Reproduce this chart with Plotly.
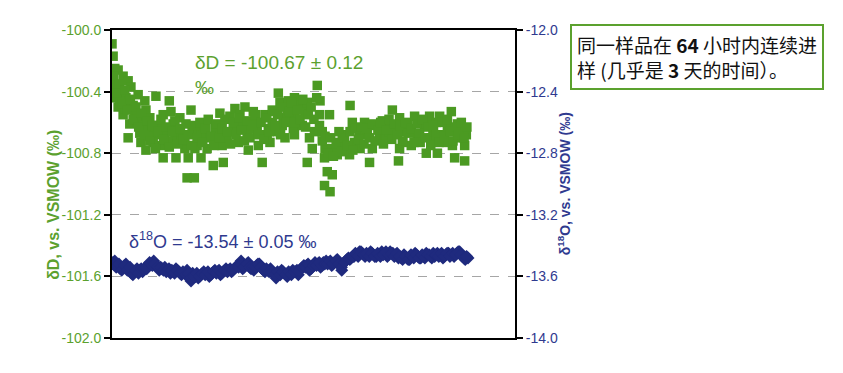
import plotly.graph_objects as go

# ---- data ----
# deltaD series: time (h) and value (permil)
dD_hours = [0.0, 0.2, 0.5, 1.1, 0.2, 2.0, 0.7, 2.9, 3.4, 0.5, 1.6, 2.5, 4.7, 7.9, 10.3,
            1.1, 2.0, 3.8, 5.9, 6.1, 3.2, 5.2, 2.9, 5.0, 5.2, 6.1, 7.0, 7.7, 9.2, 9.5,
            8.8, 9.2, 10.6, 11.0, 11.3, 11.5, 12.2, 12.4, 13.1, 13.7, 14.2, 13.5, 14.8, 14.9, 15.5,
            15.8, 16.0, 1.4, 2.3, 4.1, 6.8, 8.3, 10.1, 11.9, 13.1, 14.4, 15.3, 4.5, 5.6, 6.5, 7.4,
            16.4, 17.1, 18.2, 19.1, 19.4, 19.8, 20.0, 21.2, 21.6, 22.1, 22.5, 22.7, 23.9, 23.6, 24.3,
            24.5, 25.7, 26.1, 26.3, 27.0, 27.5, 28.1, 28.4, 29.3, 29.7, 29.9, 30.2, 30.8, 31.1, 31.7,
            32.0, 32.6, 16.7, 17.6, 18.5, 20.7, 23.0, 24.8, 25.4, 27.9, 28.8, 30.6, 31.5,
            32.8, 32.9, 32.8, 33.7, 34.2, 34.7, 35.1, 35.5, 36.9, 37.4, 37.3, 36.4, 36.0, 35.1, 37.8,
            39.1, 38.3, 38.2, 38.7, 39.6, 38.2, 39.2, 39.6, 40.5, 41.4, 41.8, 42.7, 42.8, 43.2, 43.6,
            44.5, 44.6, 45.4, 45.9, 46.3, 46.8, 47.2, 48.1, 48.6, 49.1, 40.9, 41.9,
            49.3, 49.3, 50.4, 50.8, 51.7, 51.7, 51.5, 52.6, 53.1, 53.8, 54.4, 54.9, 56.2, 56.5, 57.1,
            57.4, 58.3, 58.5, 58.9, 59.4, 60.3, 61.0, 61.2, 61.6, 62.1, 63.0, 63.4, 63.4, 63.7, 49.9,
            52.2, 55.4, 57.7, 60.1, 62.1,
            0.3, 0.8, 1.3, 1.8, 2.3, 2.8, 3.3, 3.8, 4.3, 4.8, 5.3, 5.8, 6.3, 6.8, 7.3, 7.8, 8.3, 8.8,
            9.3, 9.8, 10.3, 10.8, 11.3, 11.8, 12.3, 12.8, 13.3, 13.8, 14.3, 14.8, 15.3, 15.8, 16.3,
            16.8, 17.3, 17.8, 18.3, 18.8, 19.3, 19.8, 20.3, 20.8, 21.3, 21.8, 22.3, 22.8, 23.3, 23.8,
            24.3, 24.8, 25.3, 25.8, 26.3, 26.8, 27.3, 27.8, 28.3, 28.8, 29.3, 29.8, 30.3, 30.8, 31.3,
            31.8, 32.3, 32.8, 33.3, 33.8, 34.3, 34.8, 35.3, 35.8, 36.3, 36.8, 37.3, 37.8, 38.3, 38.8,
            39.3, 39.8, 40.3, 40.8, 41.3, 41.8, 42.3, 42.8, 43.3, 43.8, 44.3, 44.8, 45.3, 45.8, 46.3,
            46.8, 47.3, 47.8, 48.3, 48.8, 49.3, 49.8, 50.3, 50.8, 51.3, 51.8, 52.3, 52.8, 53.3, 53.8,
            54.3, 54.8, 55.3, 55.8, 56.3, 56.8, 57.3, 57.8, 58.3, 58.8, 59.3, 59.8, 60.3, 60.8, 61.3,
            61.8, 62.3, 62.8, 63.3, 63.8]
dD_values = [-100.09, -100.17, -100.25, -100.26, -100.33, -100.30, -100.38, -100.33, -100.37, -100.44,
             -100.42, -100.44, -100.42, -100.43, -100.46, -100.50, -100.55, -100.49, -100.46, -100.52,
             -100.61, -100.57, -100.70, -100.67, -100.73, -100.78, -100.64, -100.68, -100.55, -100.67,
             -100.75, -100.83, -100.53, -100.61, -100.70, -100.83, -100.57, -100.68, -100.77, -100.83,
             -100.52, -100.96, -100.96, -100.77, -100.64, -100.70, -100.83, -100.46, -100.51, -100.53,
             -100.57, -100.62, -100.72, -100.66, -100.72, -100.66, -100.75, -100.60, -100.62, -100.69,
             -100.73,
             -100.62, -100.77, -100.88, -100.67, -100.54, -100.75, -100.86, -100.56, -100.66, -100.51,
             -100.62, -100.73, -100.50, -100.60, -100.68, -100.78, -100.57, -100.66, -100.75, -100.86,
             -100.55, -100.64, -100.73, -100.53, -100.66, -100.41, -100.47, -100.57, -100.70, -100.46,
             -100.55, -100.64, -100.68, -100.70, -100.64, -100.70, -100.55, -100.64, -100.53, -100.68,
             -100.60, -100.62, -100.52,
             -100.44, -100.55, -100.68, -100.49, -100.62, -100.53, -100.47, -100.70, -100.36, -100.46,
             -100.55, -100.66, -100.77, -100.86, -100.66, -100.55, -100.77, -100.83, -100.92, -100.94,
             -101.01, -101.05, -100.77, -100.81, -100.68, -100.77, -100.81, -100.49, -100.60, -100.73,
             -100.66, -100.77, -100.60, -100.68, -100.86, -100.77, -100.62, -100.70, -100.59, -100.68,
             -100.73, -100.75,
             -100.60, -100.70, -100.52, -100.64, -100.57, -100.77, -100.85, -100.66, -100.62, -100.75,
             -100.56, -100.68, -100.62, -100.80, -100.56, -100.70, -100.60, -100.80, -100.56, -100.68,
             -100.64, -100.53, -100.75, -100.83, -100.61, -100.65, -100.75, -100.85, -100.68, -100.66,
             -100.73, -100.73, -100.66, -100.73, -100.70,
             -100.30, -100.41, -100.35, -100.48, -100.39, -100.52, -100.45, -100.58, -100.50, -100.63,
             -100.54, -100.68, -100.59, -100.72, -100.62, -100.77, -100.66, -100.58, -100.71, -100.63,
             -100.76, -100.66, -100.59, -100.74, -100.64, -100.71, -100.61, -100.68, -100.75, -100.62,
             -100.70, -100.60, -100.73, -100.64, -100.58, -100.69, -100.75, -100.61, -100.70, -100.64,
             -100.58, -100.66, -100.74, -100.60, -100.68, -100.57, -100.65, -100.72, -100.59, -100.70,
             -100.62, -100.55, -100.68, -100.60, -100.71, -100.57, -100.66, -100.52, -100.62, -100.55,
             -100.68, -100.50, -100.60, -100.53, -100.47, -100.60, -100.52, -100.58, -100.45, -100.63,
             -100.55, -100.50, -100.58, -100.44, -100.62, -100.72, -100.69, -100.80, -100.70, -100.82,
             -100.74, -100.66, -100.79, -100.70, -100.75, -100.66, -100.78, -100.64, -100.71, -100.63,
             -100.74, -100.64, -100.70, -100.61, -100.72, -100.65, -100.60, -100.74, -100.65, -100.58,
             -100.71, -100.61, -100.68, -100.62, -100.72, -100.60, -100.67, -100.64, -100.73, -100.61,
             -100.67, -100.58, -100.70, -100.63, -100.75, -100.62, -100.68, -100.73, -100.60, -100.69,
             -100.58, -100.66, -100.72, -100.63, -100.68, -100.60, -100.70, -100.63]

# delta18O series: time (h) and value (permil)
d18O_hours = [0, 0.5, 1, 1.5, 2, 2.5, 3, 3.5, 4, 4.5, 5, 5.5, 6, 6.5, 7, 7.5, 8, 8.5, 9, 9.5,
              10, 10.5, 11, 11.5, 12, 12.5, 13, 13.5, 14, 14.2, 14.5, 15, 15.5, 16, 16.5, 17, 17.5,
              18, 18.5, 19, 19.5, 20, 20.5, 21, 21.5, 22, 22.5, 23, 23.2, 23.5, 24, 24.5, 25, 25.5,
              26, 26.5, 27, 27.5, 28, 28.5, 29, 29.5, 30, 30.5, 31, 31.5, 32, 32.5, 33, 33.5, 34,
              34.5, 35, 35.5, 36, 36.5, 37, 37.5, 38, 38.5, 39, 39.5, 40, 40.5, 41, 41.3, 41.5, 42,
              42.5, 43, 43.5, 44, 44.5, 45, 45.5, 46, 46.5, 47, 47.5, 48, 48.5, 49, 49.5, 50, 50.5,
              51, 51.5, 52, 52.5, 53, 53.5, 54, 54.5, 55, 55.5, 56, 56.5, 57, 57.5, 58, 58.5, 59,
              59.5, 60, 60.5, 61, 61.5, 62, 62.5, 63, 63.5, 64,
              0.25, 0.75, 1.25, 1.75, 2.25, 2.75, 3.25, 3.75, 4.25, 4.75, 5.25, 5.75, 6.25, 6.75,
              7.25, 7.75, 8.25, 8.75, 9.25, 9.75, 10.25, 10.75, 11.25, 11.75, 12.25, 12.75, 13.25,
              13.75, 14.25, 14.75, 15.25, 15.75, 16.25, 16.75, 17.25, 17.75, 18.25, 18.75, 19.25,
              19.75, 20.25, 20.75, 21.25, 21.75, 22.25, 22.75, 23.25, 23.75, 24.25, 24.75, 25.25,
              25.75, 26.25, 26.75, 27.25, 27.75, 28.25, 28.75, 29.25, 29.75, 30.25, 30.75, 31.25,
              31.75, 32.25, 32.75, 33.25, 33.75, 34.25, 34.75, 35.25, 35.75, 36.25, 36.75, 37.25,
              37.75, 38.25, 38.75, 39.25, 39.75, 40.25, 40.75, 41.25, 41.75, 42.25, 42.75, 43.25,
              43.75, 44.25, 44.75, 45.25, 45.75, 46.25, 46.75, 47.25, 47.75, 48.25, 48.75, 49.25,
              49.75, 50.25, 50.75, 51.25, 51.75, 52.25, 52.75, 53.25, 53.75, 54.25, 54.75, 55.25,
              55.75, 56.25, 56.75, 57.25, 57.75, 58.25, 58.75, 59.25, 59.75, 60.25, 60.75, 61.25,
              61.75, 62.25, 62.75, 63.25, 63.75]
d18O_values = [-13.51, -13.50, -13.53, -13.55, -13.54, -13.52, -13.55, -13.58, -13.57, -13.55,
               -13.56, -13.57, -13.54, -13.53, -13.52, -13.50, -13.53, -13.56, -13.55, -13.54,
               -13.56, -13.58, -13.57, -13.55, -13.57, -13.59, -13.58, -13.56, -13.59, -13.63,
               -13.58, -13.60, -13.61, -13.59, -13.57, -13.58, -13.60, -13.58, -13.56, -13.57,
               -13.59, -13.57, -13.55, -13.56, -13.57, -13.55, -13.53, -13.53, -13.50, -13.55,
               -13.53, -13.51, -13.55, -13.56, -13.53, -13.52, -13.55, -13.57, -13.56, -13.55,
               -13.58, -13.61, -13.58, -13.56, -13.58, -13.60, -13.58, -13.56, -13.57, -13.59,
               -13.55, -13.53, -13.53, -13.56, -13.54, -13.51, -13.52, -13.54, -13.51, -13.50,
               -13.51, -13.53, -13.51, -13.49, -13.53, -13.56, -13.52, -13.50, -13.48, -13.48,
               -13.47, -13.46, -13.44, -13.45, -13.47, -13.46, -13.44, -13.46, -13.47, -13.46,
               -13.44, -13.45, -13.47, -13.44, -13.45, -13.46, -13.48, -13.48, -13.46, -13.48,
               -13.49, -13.47, -13.45, -13.47, -13.48, -13.47, -13.45, -13.46, -13.48, -13.47,
               -13.45, -13.46, -13.48, -13.46, -13.45, -13.46, -13.47, -13.45, -13.44, -13.47,
               -13.49, -13.48,
               -13.52, -13.54, -13.52, -13.56, -13.53, -13.56, -13.54, -13.59, -13.56, -13.58,
               -13.55, -13.55, -13.55, -13.51, -13.53, -13.52, -13.54, -13.54, -13.56, -13.57,
               -13.55, -13.56, -13.58, -13.56, -13.58, -13.57, -13.59, -13.58, -13.61, -13.60,
               -13.58, -13.60, -13.58, -13.59, -13.57, -13.59, -13.57, -13.58, -13.56, -13.58,
               -13.56, -13.57, -13.55, -13.56, -13.54, -13.54, -13.52, -13.54, -13.52, -13.54,
               -13.54, -13.54, -13.52, -13.54, -13.56, -13.55, -13.57, -13.57, -13.59, -13.57,
               -13.59, -13.57, -13.59, -13.57, -13.59, -13.57, -13.56, -13.56, -13.54, -13.54,
               -13.52, -13.55, -13.53, -13.53, -13.51, -13.53, -13.52, -13.52, -13.50, -13.52,
               -13.50, -13.52, -13.54, -13.51, -13.49, -13.49, -13.47, -13.45, -13.47, -13.44,
               -13.46, -13.45, -13.47, -13.45, -13.47, -13.45, -13.47, -13.46, -13.44, -13.46,
               -13.45, -13.47, -13.45, -13.47, -13.49, -13.47, -13.49, -13.46, -13.48, -13.46,
               -13.48, -13.46, -13.48, -13.46, -13.47, -13.45, -13.46, -13.47, -13.45, -13.47,
               -13.45, -13.47, -13.45, -13.46, -13.44, -13.46, -13.48, -13.47]

left_ticks = [-102.0, -101.6, -101.2, -100.8, -100.4, -100.0]
right_ticks = [-14.0, -13.6, -13.2, -12.8, -12.4, -12.0]

GREEN = "#4b9a22"
GREEN_TXT = "#5ba12e"
NAVY = "#1f2a7e"
NAVY_TXT = "#2f3a8f"
FONT = "Liberation Sans, Arial, sans-serif"

fig = go.Figure()
fig.add_trace(go.Scatter(x=dD_hours, y=dD_values, mode="markers",
                         marker=dict(symbol="square", size=9.5, color=GREEN),
                         yaxis="y", showlegend=False))
fig.add_trace(go.Scatter(x=d18O_hours, y=d18O_values, mode="markers",
                         marker=dict(symbol="diamond", size=10, color=NAVY),
                         yaxis="y2", showlegend=False))

fig.update_layout(
    width=835, height=365,
    margin=dict(l=104, r=328, t=22, b=35),
    paper_bgcolor="white", plot_bgcolor="white",
    font=dict(family=FONT),
    xaxis=dict(range=[0, 72.45], showticklabels=False, ticks="", showgrid=False,
               zeroline=False, showline=True, linecolor="black", linewidth=2, mirror=True),
    yaxis=dict(range=[-102, -100], tickvals=left_ticks,
               ticktext=[f"{v:.1f}" for v in left_ticks],
               tickfont=dict(color=GREEN_TXT, size=14, family=FONT),
               ticks="outside", ticklen=6, tickcolor="black", tickwidth=1.5,
               showline=True, linecolor="black", linewidth=2,
               showgrid=True, gridcolor="#a6a6a6", griddash="dash", gridwidth=1,
               zeroline=False),
    yaxis2=dict(range=[-14, -12], tickvals=right_ticks,
                ticktext=[f"{v:.1f}" for v in right_ticks],
                tickfont=dict(color=NAVY_TXT, size=14, family=FONT),
                overlaying="y", side="right",
                ticks="outside", ticklen=6, tickcolor="black", tickwidth=1.5,
                showline=True, linecolor="black", linewidth=2,
                showgrid=False, zeroline=False),
)

ann = []
ann.append(dict(text="<b>δD, vs. VSMOW (‰)</b>", xref="paper", yref="paper",
                x=-0.171, y=0.431, textangle=-90, showarrow=False,
                font=dict(color=GREEN_TXT, size=16, family=FONT)))
ann.append(dict(text="<b>δ<sup>18</sup>O, vs. VSMOW (‰)</b>", xref="paper", yref="paper",
                x=1.151, y=0.502, textangle=-90, showarrow=False,
                font=dict(color=NAVY_TXT, size=14, family=FONT)))
ann.append(dict(text="δD = -100.67 ± 0.12", xref="paper", yref="paper",
                x=0.201, y=0.895, xanchor="left", yanchor="middle", showarrow=False,
                font=dict(color=GREEN_TXT, size=19, family=FONT)))
ann.append(dict(text="‰", xref="paper", yref="paper",
                x=0.201, y=0.814, xanchor="left", yanchor="middle", showarrow=False,
                font=dict(color=GREEN_TXT, size=19, family=FONT)))
ann.append(dict(text="δ<sup>18</sup>O = -13.54 ± 0.05 ‰", xref="paper", yref="paper",
                x=0.037, y=0.318, xanchor="left", yanchor="middle", showarrow=False,
                font=dict(color=NAVY_TXT, size=18, family=FONT)))
ann.append(dict(text="同一样品在 <b>64</b> 小时内连续进<br>样 (几乎是 <b>3</b> 天的时间）。",
                xref="paper", yref="paper", x=1.1365, y=1.018, xanchor="left", yanchor="top",
                showarrow=False, align="left", bgcolor="white",
                bordercolor="#5ba12e", borderwidth=2, borderpad=5,
                font=dict(color="#111111", size=19,
                          family="Noto Sans CJK SC, Liberation Sans, sans-serif")))
fig.update_layout(annotations=ann)

fig.write_html("out.html")
